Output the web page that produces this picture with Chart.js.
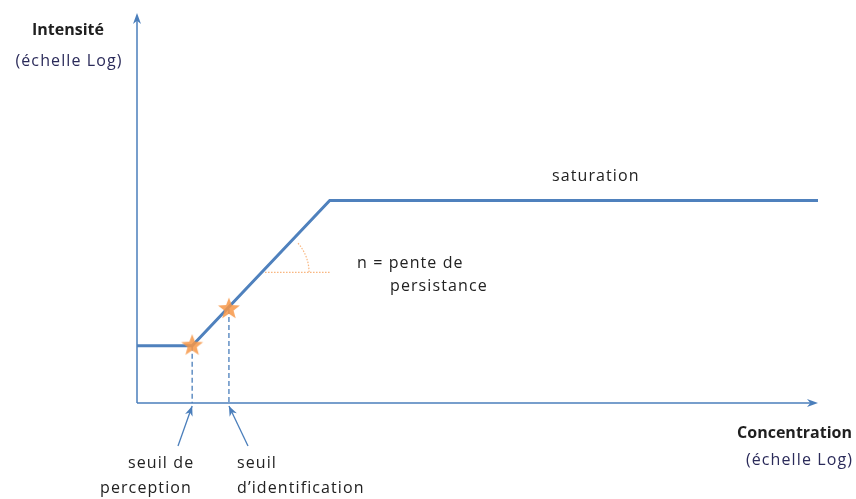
<!DOCTYPE html>
<html><head><meta charset="utf-8">
<script src="https://cdn.jsdelivr.net/npm/chart.js@4/dist/chart.umd.min.js"></script>
<style>html,body{margin:0;padding:0;background:#fff}#wrap{width:856px;height:499px;position:relative}</style>
</head><body><div id="wrap"><canvas id="c" width="856" height="499"></canvas></div>
<script>
// Data (conceptual, log-log): concentration vs intensity
const concentration = [0, 8.1, 28.3, 100];
const intensity = [14.7, 14.7, 51.9, 51.9];
const thresholdLabels = [["seuil de", "perception"], ["seuil", "d\u2019identification"]];
const thresholdConc = [8.1, 13.5];
const thresholdInt = [14.7, 24.1];
const axisTitles = { y: ["Intensité", "(échelle Log)"], x: ["Concentration", "(échelle Log)"] };
const saturationLabel = "saturation";
const slopeLabel = ["n = pente de", "persistance"];

const BLUE = '#4f81bd', AXIS = '#4a7ebb', ORANGE = '#f79646';
const FONT = '"Open Sans", sans-serif';

function makeStar(size){
  const cv = document.createElement('canvas'); cv.width = size; cv.height = size;
  const g = cv.getContext('2d'); const c = size/2, ro = size/2-0.5, ri = ro*0.42;
  g.beginPath();
  for(let i=0;i<10;i++){const r=i%2?ri:ro;const a=-Math.PI/2+i*Math.PI/5;g.lineTo(c+r*Math.cos(a),c+r*Math.sin(a));}
  g.closePath(); g.fillStyle='rgba(247,150,70,0.85)'; g.fill();
  return cv;
}
const star = makeStar(24);

const mainData = concentration.map((x,i)=>({x, y: intensity[i]}));
const starData = thresholdConc.map((x,i)=>({x, y: thresholdInt[i]}));
const dashSets = thresholdConc.map((x,i)=>({
  data:[{x,y:thresholdInt[i]},{x,y:0}], showLine:true, borderColor:AXIS, borderWidth:1.3,
  borderDash:[5,3], pointRadius:0, order:2
}));

function arrowHead(ctx, x1,y1,x2,y2, len, half){
  const a = Math.atan2(y2-y1,x2-x1);
  ctx.beginPath();
  ctx.moveTo(x2,y2);
  ctx.lineTo(x2-len*Math.cos(a)+half*Math.sin(a), y2-len*Math.sin(a)-half*Math.cos(a));
  ctx.lineTo(x2-len*Math.cos(a)*0.7, y2-len*Math.sin(a)*0.7);
  ctx.lineTo(x2-len*Math.cos(a)-half*Math.sin(a), y2-len*Math.sin(a)+half*Math.cos(a));
  ctx.closePath(); ctx.fill();
}

const deco = {
  id:'deco',
  beforeDatasetsDraw(chart){
    const ctx = chart.ctx, xs = chart.scales.x, ys = chart.scales.y;
    const x0 = xs.getPixelForValue(0), y0 = ys.getPixelForValue(0);
    ctx.save();
    ctx.strokeStyle = AXIS; ctx.fillStyle = AXIS; ctx.lineWidth = 1.5;
    ctx.beginPath(); ctx.moveTo(x0,y0); ctx.lineTo(x0, ys.getPixelForValue(100)+4); ctx.stroke();
    arrowHead(ctx, x0, y0, x0, ys.getPixelForValue(100), 11, 4);
    ctx.beginPath(); ctx.moveTo(x0,y0); ctx.lineTo(xs.getPixelForValue(100)-4, y0); ctx.stroke();
    arrowHead(ctx, x0, y0, xs.getPixelForValue(100), y0, 11, 4);
    const ax = xs.getPixelForValue(18.8), ay = ys.getPixelForValue(33.5);
    ctx.strokeStyle = 'rgba(247,150,70,0.7)'; ctx.lineWidth = 1.2; ctx.setLineDash([1.5,1.5]);
    ctx.beginPath(); ctx.moveTo(ax, ay); ctx.lineTo(xs.getPixelForValue(28.3), ay); ctx.stroke();
    ctx.beginPath(); ctx.arc(ax, ay, 44, -Math.PI*0.23, 0); ctx.stroke();
    ctx.setLineDash([]);
    ctx.restore();
  },
  afterDraw(chart){
    const ctx = chart.ctx, xs = chart.scales.x, ys = chart.scales.y;
    const y0 = ys.getPixelForValue(0);
    ctx.save();
    ctx.strokeStyle = AXIS; ctx.fillStyle = AXIS; ctx.lineWidth = 1.3;
    const starts = [[178,446],[248,446]];
    thresholdConc.forEach((c,i)=>{
      const tx = xs.getPixelForValue(c), ty = y0+3;
      ctx.beginPath(); ctx.moveTo(starts[i][0], starts[i][1]); ctx.lineTo(tx, ty); ctx.stroke();
      arrowHead(ctx, starts[i][0], starts[i][1], tx, ty, 10, 4);
    });
    ctx.textBaseline = 'middle';
    const reg = (col)=>{ctx.font='16px '+FONT; ctx.letterSpacing='1.1px'; ctx.fillStyle=col||'#222';};
    const bold = ()=>{ctx.font='bold 16px '+FONT; ctx.letterSpacing='0px'; ctx.fillStyle='#1f1f1f';};
    ctx.textAlign='center';
    bold(); ctx.fillText(axisTitles.y[0], 68, 30);
    reg('#2b2b5a'); ctx.fillText(axisTitles.y[1], 69, 61);
    ctx.textAlign='right';
    bold(); ctx.fillText(axisTitles.x[0], 852, 433);
    reg('#2b2b5a'); ctx.fillText(axisTitles.x[1], 853, 460);
    reg();
    ctx.textAlign='left';
    ctx.fillText(saturationLabel, 552, 176);
    ctx.fillText(slopeLabel[0], 357, 263);
    ctx.fillText(slopeLabel[1], 390, 286);
    ctx.fillText(thresholdLabels[0][0], 128, 463);
    ctx.fillText(thresholdLabels[0][1], 100, 488);
    ctx.fillText(thresholdLabels[1][0], 237, 463);
    ctx.fillText(thresholdLabels[1][1], 237, 488);
    ctx.restore();
  }
};

new Chart(document.getElementById('c'), {
  type:'scatter',
  data:{ datasets:[
    {data:starData, pointStyle:star, pointRadius:12, order:0},
    {data:mainData, showLine:true, borderColor:BLUE, borderWidth:3, pointRadius:0, order:1, borderCapStyle:'butt'},
    ...dashSets
  ]},
  options:{
    responsive:false, animation:false, clip:false,
    layout:{padding:{left:137, right:38, top:8, bottom:96}},
    plugins:{legend:{display:false}, tooltip:{enabled:false}},
    scales:{
      x:{type:'linear', min:0, max:100, display:false},
      y:{type:'linear', min:0, max:100, display:false}
    }
  },
  plugins:[deco]
});
</script></body></html>
